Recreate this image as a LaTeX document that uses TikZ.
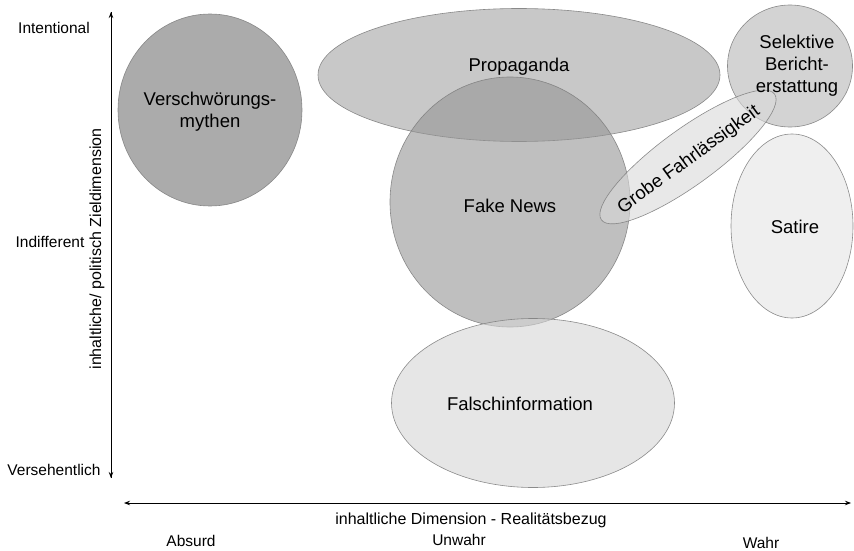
\documentclass[tikz,border=0pt]{standalone}
\usepackage{fontspec}
\setmainfont{Liberation Sans}
\usetikzlibrary{shapes.geometric,arrows.meta}
\definecolor{cVer}{gray}{0.45}
\definecolor{cPro}{gray}{0.64}
\definecolor{cFak}{gray}{0.58}
\definecolor{cFal}{gray}{0.835}
\definecolor{cSel}{gray}{0.715}
\definecolor{cSat}{gray}{0.90}
\definecolor{cGro}{gray}{0.85}
\tikzset{
  bubble/.style={ellipse, draw=black!50, line width=0.6pt, fill opacity=0.6, draw opacity=0.9, inner sep=0pt},
  blabel/.style={font=\fontsize{18.5}{22}\selectfont, align=center, text=black},
  alabel/.style={font=\fontsize{15.5}{18}\selectfont, text=black},
  axis/.style={line width=0.8pt, black},
  tip/.style={-{Stealth[length=6pt,width=4.5pt]}}
}
\begin{document}
\begin{tikzpicture}[x=1pt,y=-1pt]
\useasboundingbox (0,0) rectangle (854,551);
% bubbles
\node[bubble, fill=cVer, minimum width=184pt, minimum height=192pt] (ver) at (210,110) {};
\node[bubble, fill=cPro, minimum width=402pt, minimum height=133pt] (pro) at (519,75) {};
\node[bubble, fill=cFak, minimum width=240pt, minimum height=250pt] (fak) at (510,202) {};
\node[bubble, fill=cFal, minimum width=283pt, minimum height=169pt] (fal) at (533,403) {};
\node[bubble, fill=cSel, minimum width=125pt, minimum height=122pt] (sel) at (790,66) {};
\node[bubble, fill=cSat, minimum width=122pt, minimum height=184pt] (sat) at (792,226) {};
\node[bubble, fill=cGro, rotate=36, minimum width=214pt, minimum height=56pt] (gro) at (688,157) {};
% bubble labels
\node[blabel] (tver) at (210,112) {Verschwörungs-\\mythen};
\node[blabel] (tpro) at (519,67) {Propaganda};
\node[blabel] (tfak) at (510,206) {Fake News};
\node[blabel] (tfal) at (520,404) {Falschinformation};
\node[blabel] (tsel) at (797,66) {Selektive\\Bericht-\\erstattung};
\node[blabel] (tsat) at (795,227) {Satire};
\node[blabel, rotate=36] (tgro) at (689,160) {Grobe Fahrlässigkeit};
% axes
\coordinate (ytop) at (111,12);
\coordinate (ybot) at (111,478);
\coordinate (xl) at (124,503);
\coordinate (xr) at (851,503);
\draw[axis, tip] (ybot) -- (ytop);
\draw[axis, tip] (ytop) -- (ybot);
\draw[axis, {Stealth[length=6pt,width=4.5pt]}-{Stealth[length=6pt,width=4.5pt]}] (xl) -- (xr);
% axis labels
\node[alabel] (lint) at (54,28) {Intentional};
\node[alabel] (lind) at (50,242) {Indifferent};
\node[alabel] (lver) at (54,470) {Versehentlich};
\node[alabel, font=\fontsize{16}{18}\selectfont, rotate=90] (lyax) at (97,249) {inhaltliche/ politisch Zieldimension};
\node[alabel, font=\fontsize{16}{18}\selectfont] (lxax) at (471,520) {inhaltliche Dimension - Realitätsbezug};
\node[alabel] (labs) at (191,541) {Absurd};
\node[alabel] (lunw) at (459,540) {Unwahr};
\node[alabel] (lwah) at (761,543) {Wahr};
\end{tikzpicture}
\end{document}
